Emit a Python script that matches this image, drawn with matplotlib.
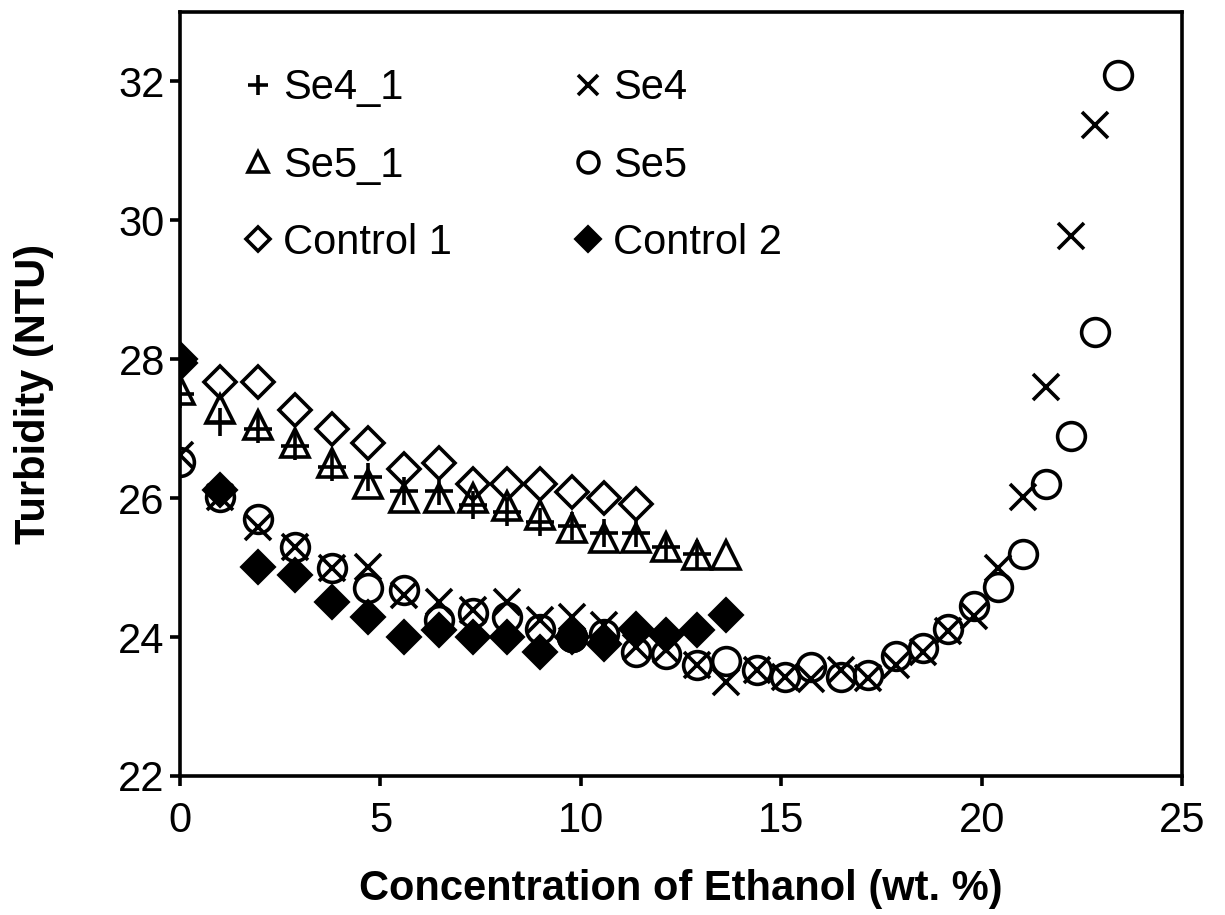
import matplotlib
matplotlib.use("Agg")
import matplotlib.pyplot as plt

plt.rcParams['font.family'] = ['Liberation Sans', 'DejaVu Sans']

# ethanol concentration (wt. %) at each dilution step
conc = [0, 1.0, 1.95, 2.87, 3.8, 4.7, 5.58, 6.45, 7.31, 8.15, 8.98, 9.78, 10.57,
        11.37, 12.12, 12.89, 13.62, 14.39, 15.09, 15.75, 16.5, 17.16, 17.85,
        18.54, 19.16, 19.8, 20.4, 21.03, 21.6, 22.24, 22.82, 23.4]

se4_1 = [27.5, 27.1, 27.0, 26.75, 26.45, 26.3, 26.1, 26.1, 25.9, 25.8, 25.65,
         25.6, 25.5, 25.5, 25.3, 25.2]
se4 = [26.62, 26.02, 25.59, 25.3, 24.99, 25.01, 24.6, 24.5, 24.39, 24.51, 24.24,
       24.29, 24.17, 23.86, 23.81, 23.59, 23.35, 23.53, 23.43, 23.4, 23.53, 23.41,
       23.6, 23.79, 24.08, 24.3, 25.0, 26.02, 27.6, 29.78, 31.37]
se5_1 = [27.55, 27.28, 27.05, 26.8, 26.5, 26.2, 26.0, 26.0, 26.0, 25.88, 25.75,
         25.57, 25.42, 25.42, 25.29, 25.18, 25.18]
se5 = [26.52, 26.02, 25.7, 25.3, 24.99, 24.7, 24.68, 24.24, 24.34, 24.29, 24.12,
       24.0, 24.05, 23.78, 23.76, 23.59, 23.66, 23.53, 23.43, 23.57, 23.43, 23.45,
       23.72, 23.84, 24.12, 24.44, 24.72, 25.2, 26.21, 26.9, 28.39, 32.09]
control1 = [28.0, 27.67, 27.67, 27.27, 27.0, 26.8, 26.42, 26.5, 26.2, 26.2, 26.2,
            26.09, 26.0, 25.91]
control2 = [27.94, 26.12, 25.01, 24.89, 24.51, 24.29, 24.0, 24.1, 24.0, 24.0, 23.79,
            24.0, 23.9, 24.12, 24.03, 24.1, 24.32]

filled_idx = 11  # one Se5 point drawn solid in the original

fig = plt.figure(figsize=(12.25, 9.15), dpi=100)
ax = fig.add_axes([0.147, 0.152, 0.818, 0.835])

mew = 2.6
common = dict(linestyle='none', color='k', markeredgewidth=mew)

h_c2, = ax.plot(conc[:len(control2)], control2, marker='D', markersize=16,
                markerfacecolor='k', label="Control 2", **common)
h_c1, = ax.plot(conc[:len(control1)], control1, marker='D', markersize=16,
                markerfacecolor='none', label="Control 1", **common)
h_s51, = ax.plot(conc[:len(se5_1)], se5_1, marker='^', markersize=20,
                 markerfacecolor='none', label="Se5_1", **common)
h_s41, = ax.plot(conc[:len(se4_1)], se4_1, marker='+', markersize=20,
                 label="Se4_1", **common)
h_s5, = ax.plot(conc[:len(se5)], se5, marker='o', markersize=20,
                markerfacecolor='none', label="Se5", **common)
h_s4, = ax.plot(conc[:len(se4)], se4, marker='x', markersize=19,
                label="Se4", **common)
ax.plot(conc[filled_idx], se5[filled_idx], marker='o', markersize=20,
        markerfacecolor='k', **common)

ax.set_xlim(0, 25)
ax.set_ylim(22, 33)
ax.set_xticks([0, 5, 10, 15, 20, 25])
ax.set_yticks([22, 24, 26, 28, 30, 32])

for s in ax.spines.values():
    s.set_linewidth(2.6)
ax.tick_params(axis='both', direction='out', length=7, width=2.6, labelsize=30)
ax.tick_params(axis='x', pad=11)
ax.tick_params(axis='y', pad=4)

ax.set_xlabel("Concentration of Ethanol (wt. %)", fontsize=30,
              fontweight='bold', labelpad=20)
ax.set_ylabel("Turbidity (NTU)", fontsize=30, fontweight='bold', labelpad=46)

handles = [h_s41, h_s51, h_c1, h_s4, h_s5, h_c2]
ax.legend(handles=handles, labels=[h.get_label() for h in handles], ncol=2,
          loc='upper left', bbox_to_anchor=(0.028, 0.975), frameon=False,
          fontsize=30, markerscale=0.75, handlelength=0.6, handletextpad=0.3,
          columnspacing=2.96, labelspacing=0.89)

fig.savefig("out.png", dpi=100)
